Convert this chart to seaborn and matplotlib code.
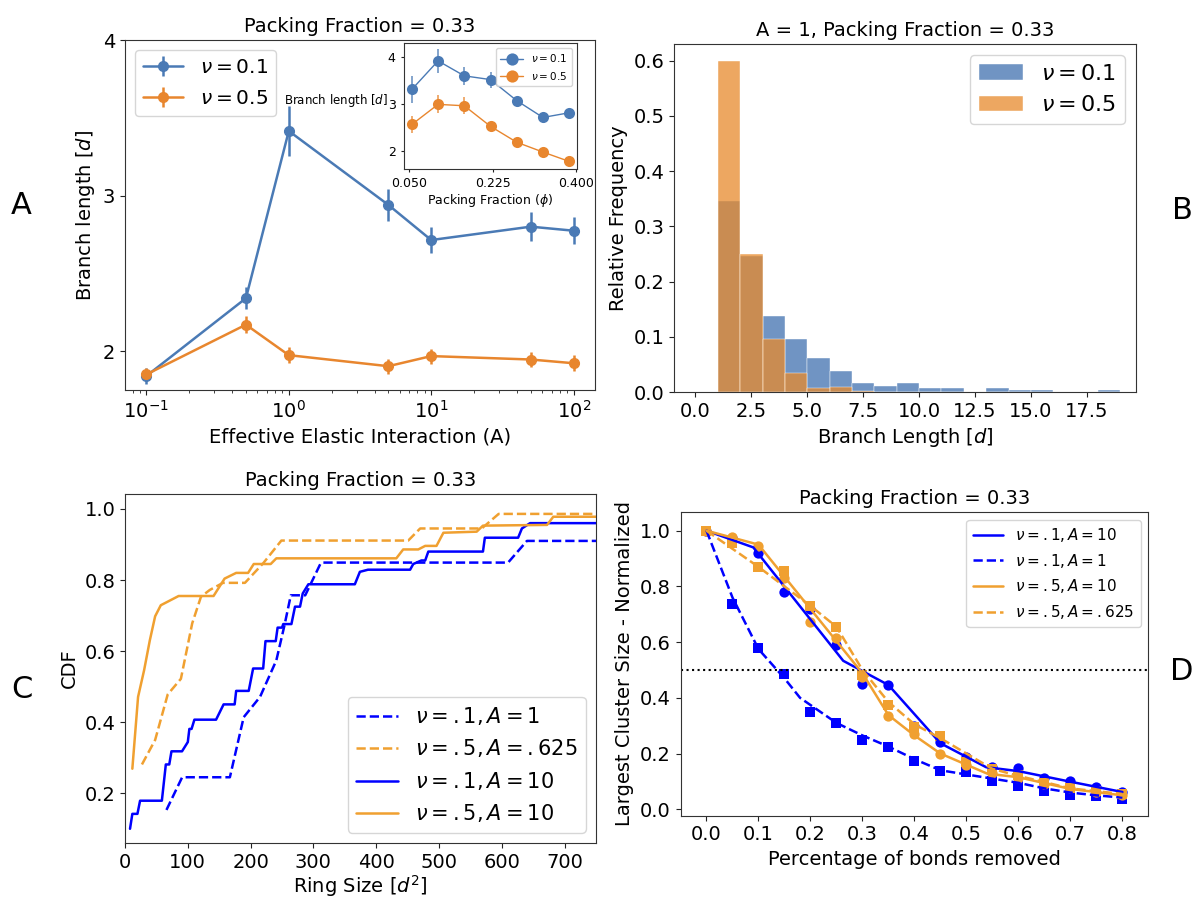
import numpy as np
import pandas as pd
import matplotlib
matplotlib.use("Agg")
import matplotlib.pyplot as plt
import seaborn as sns

sns.set_style("ticks")
plt.rcParams['font.family'] = ['DejaVu Sans']
plt.rcParams['mathtext.fontset'] = 'dejavusans'
plt.rcParams['xtick.direction'] = 'out'
plt.rcParams['ytick.direction'] = 'out'
plt.rcParams['text.color'] = 'black'
plt.rcParams['axes.labelcolor'] = 'black'
plt.rcParams['xtick.color'] = '#222222'
plt.rcParams['ytick.color'] = '#222222'
plt.rcParams['xtick.labelcolor'] = 'black'
plt.rcParams['ytick.labelcolor'] = 'black'
plt.rcParams['axes.edgecolor'] = '#333333'

# ---------------- data ----------------
# Panel A
A_vals = [0.1, 0.5, 1, 5, 10, 50, 100]
a_nu01 = [1.84, 2.34, 3.415, 2.94, 2.714, 2.80, 2.774]
a_nu01_err = [0.05, 0.07, 0.16, 0.105, 0.086, 0.094, 0.087]
a_nu05 = [1.85, 2.17, 1.974, 1.903, 1.968, 1.946, 1.922]
a_nu05_err = [0.04, 0.054, 0.05, 0.048, 0.048, 0.05, 0.05]

inset_phi = [0.055, 0.11, 0.165, 0.22, 0.275, 0.33, 0.385]
inset_nu01 = [3.31, 3.92, 3.60, 3.52, 3.07, 2.71, 2.81]
inset_nu01_err = [0.29, 0.26, 0.19, 0.17, 0.06, 0.05, 0.05]
inset_nu05 = [2.56, 2.99, 2.96, 2.52, 2.18, 1.97, 1.77]
inset_nu05_err = [0.18, 0.19, 0.18, 0.06, 0.05, 0.05, 0.04]

# Panel B (relative frequency per unit bin, edges 0..19)
bin_edges = list(range(0, 20))
hist_nu01 = [0, 0.345, 0.247, 0.138, 0.096, 0.0615, 0.0386, 0.0157, 0.0115,
             0.0157, 0.0078, 0.0078, 0, 0.0078, 0.004, 0.004, 0, 0, 0.004]
hist_nu05 = [0, 0.600, 0.250, 0.096, 0.034, 0.007, 0.009, 0.002, 0,
             0, 0, 0, 0, 0, 0, 0, 0, 0, 0]

# Panel C (CDF curves)
c_nu01_A1_x = [66, 91, 167, 189, 215, 241, 254, 264, 287, 311, 313, 610, 640, 750]
c_nu01_A1_y = [0.153, 0.245, 0.245, 0.414, 0.471, 0.574, 0.673, 0.757, 0.757, 0.845, 0.849, 0.849, 0.91, 0.91]
c_nu05_A0625_x = [27, 48, 68, 89, 107, 121, 135, 156, 191, 220, 249, 451, 470, 568, 595, 750]
c_nu05_A0625_y = [0.281, 0.35, 0.478, 0.522, 0.678, 0.753, 0.772, 0.792, 0.792, 0.847, 0.911, 0.911, 0.945, 0.945, 0.986, 0.986]
c_nu01_A10_x = [8, 11.7, 19.8, 24, 58.7, 65, 70.5, 74, 90.8, 100, 102.5, 106, 110.5, 145, 157, 174.6,
                177, 197, 204, 220, 223.7, 240, 243, 250, 252, 265, 270.7, 278.7, 283, 292, 366,
                374, 387, 454, 459, 472, 478, 483, 570, 573, 626, 632, 645, 750]
c_nu01_A10_y = [0.10, 0.142, 0.142, 0.179, 0.179, 0.281, 0.281, 0.318, 0.318, 0.344, 0.381, 0.381, 0.407,
                0.407, 0.45, 0.45, 0.488, 0.488, 0.551, 0.551, 0.628, 0.628, 0.666, 0.666, 0.676, 0.676,
                0.725, 0.725, 0.762, 0.788, 0.788, 0.823, 0.829, 0.829, 0.845, 0.855, 0.855, 0.88, 0.88,
                0.919, 0.919, 0.945, 0.96, 0.96]
c_nu05_A10_x = [11.7, 20.8, 30.4, 39.5, 48, 57, 85.4, 141, 158.6, 177, 196, 205, 232, 241, 432, 443,
                467, 478, 496, 507, 560, 570, 672, 682, 750]
c_nu05_A10_y = [0.269, 0.471, 0.546, 0.63, 0.698, 0.729, 0.755, 0.755, 0.804, 0.82, 0.82, 0.845, 0.845,
                0.861, 0.861, 0.886, 0.886, 0.896, 0.896, 0.933, 0.936, 0.953, 0.955, 0.978, 0.978]

# Panel D
frac_removed = [0.0, 0.05, 0.1, 0.15, 0.2, 0.25, 0.3, 0.35, 0.4, 0.45, 0.5, 0.55, 0.6, 0.65, 0.7, 0.75, 0.8]
d_nu01_A10_pts = [1.0, 0.975, 0.919, 0.781, 0.72, 0.59, 0.45, 0.446, 0.30, 0.24, 0.189, 0.151, 0.15, 0.111, 0.103, 0.081, 0.063]
d_nu01_A1_pts = [1.0, 0.737, 0.578, 0.484, 0.35, 0.309, 0.247, 0.222, 0.175, 0.137, 0.135, 0.10, 0.084, 0.066, 0.053, 0.048, 0.037]
d_nu05_A10_pts = [1.0, 0.978, 0.945, 0.83, 0.671, 0.614, 0.476, 0.336, 0.27, 0.20, 0.159, 0.129, 0.113, 0.091, 0.075, 0.061, 0.051]
d_nu05_A0625_pts = [1.0, 0.955, 0.869, 0.855, 0.731, 0.653, 0.482, 0.374, 0.294, 0.263, 0.17, 0.144, 0.123, 0.096, 0.077, 0.065, 0.055]

d_fit_nu01_A10_x = [0.0, 0.09, 0.263, 0.35, 0.45, 0.538, 0.6, 0.7, 0.8]
d_fit_nu01_A10_y = [1.0, 0.94, 0.533, 0.446, 0.237, 0.151, 0.137, 0.099, 0.062]
d_fit_nu01_A1_x = [0.0, 0.05, 0.1, 0.15, 0.18, 0.25, 0.3, 0.35, 0.4, 0.45, 0.5, 0.55, 0.6, 0.65, 0.7, 0.75, 0.8]
d_fit_nu01_A1_y = [1.0, 0.76, 0.575, 0.47, 0.40, 0.31, 0.265, 0.225, 0.18, 0.14, 0.125, 0.11, 0.095, 0.075, 0.06, 0.05, 0.042]
d_fit_nu05_A10_x = [0.0, 0.1, 0.3, 0.35, 0.4, 0.45, 0.54, 0.6, 0.7, 0.8]
d_fit_nu05_A10_y = [1.0, 0.95, 0.488, 0.338, 0.265, 0.20, 0.128, 0.115, 0.073, 0.05]
d_fit_nu05_A0625_x = [0.0, 0.1, 0.2, 0.25, 0.3, 0.35, 0.4, 0.45, 0.55, 0.6, 0.7, 0.8]
d_fit_nu05_A0625_y = [1.0, 0.87, 0.73, 0.655, 0.5, 0.385, 0.305, 0.255, 0.145, 0.12, 0.075, 0.055]

# ---------------- styles ----------------
blueA = '#4a7ab5'
orangeA = '#e8862e'
blueB = '#4c7ab4'
orangeB = '#e88a2c'
blueCD = '#0000ff'
orangeCD = '#f0a030'

W, H = 1195, 898
fig = plt.figure(figsize=(W / 100, H / 100), dpi=100)

def rect(l, r, t, b):
    return [l / W, 1 - b / H, (r - l) / W, (b - t) / H]

TICK = 14
LAB = 14

# ---------------- Panel A ----------------
axA = fig.add_axes(rect(125, 595, 40, 390))
axA.errorbar(A_vals, a_nu01, yerr=a_nu01_err, color=blueA, marker='o', ms=7, lw=1.8,
             elinewidth=1.8, label=r'$\nu = 0.1$')
axA.errorbar(A_vals, a_nu05, yerr=a_nu05_err, color=orangeA, marker='o', ms=7, lw=1.8,
             elinewidth=1.8, label=r'$\nu = 0.5$')
axA.set_xscale('log')
axA.set_ylim(1.75, 4.0)
axA.set_yticks([2, 3, 4])
axA.tick_params(labelsize=TICK)
axA.set_xlabel('Effective Elastic Interaction (A)', fontsize=LAB)
axA.set_ylabel(r'Branch length [$d$]', fontsize=LAB)
axA.set_title('Packing Fraction = 0.33', fontsize=LAB)
axA.legend(loc='upper left', fontsize=14.5, labelspacing=0.6, handlelength=2.0)

# inset
axI = fig.add_axes(rect(404, 577, 43, 169))
axI.errorbar(inset_phi, inset_nu01, yerr=inset_nu01_err, color=blueA, fmt='none', elinewidth=1.2, alpha=0.8)
axI.errorbar(inset_phi, inset_nu05, yerr=inset_nu05_err, color=orangeA, fmt='none', elinewidth=1.2, alpha=0.8)
sns.lineplot(x=inset_phi, y=inset_nu01, ax=axI, color=blueA, marker='o', markersize=8,
             markeredgewidth=0, lw=1, label=r'$\nu = 0.1$')
sns.lineplot(x=inset_phi, y=inset_nu05, ax=axI, color=orangeA, marker='o', markersize=8,
             markeredgewidth=0, lw=1, label=r'$\nu = 0.5$')
axI.set_xticks([0.05, 0.225, 0.4])
axI.set_xticklabels(['0.050', '0.225', '0.400'])
axI.set_yticks([2, 3, 4])
axI.tick_params(labelsize=9, length=2.5)
axI.set_xlabel(r'Packing Fraction ($\phi$)', fontsize=9, labelpad=1)
axI.set_ylabel(r'Branch length [$d$]', fontsize=8.5, rotation=0, ha='right', va='center')
axI.yaxis.set_label_coords(-0.095, 0.54)
axI.legend(loc='upper right', fontsize=7.5, markerscale=1.1, handlelength=2.2)

# ---------------- Panel B ----------------
axB = fig.add_axes(rect(674, 1136, 44, 392))
centers = [e + 0.5 for e in bin_edges[:-1]]
sns.histplot(x=centers, weights=hist_nu01, bins=bin_edges, ax=axB, color=blueB, alpha=0.8,
             edgecolor='white', linewidth=0.3, label=r'$\nu = 0.1$')
sns.histplot(x=centers, weights=hist_nu05, bins=bin_edges, ax=axB, color=orangeB, alpha=0.75,
             edgecolor='white', linewidth=0.3, label=r'$\nu = 0.5$')
axB.set_xlim(-0.96, 19.7)
axB.set_ylim(0, 0.63)
axB.set_xticks([0, 2.5, 5, 7.5, 10, 12.5, 15, 17.5])
axB.tick_params(labelsize=TICK)
axB.set_xlabel(r'Branch Length [$d$]', fontsize=LAB)
axB.set_ylabel('Relative Frequency', fontsize=LAB)
axB.set_title('A = 1, Packing Fraction = 0.33', fontsize=LAB)
axB.legend(loc='upper right', fontsize=16)

# ---------------- Panel C ----------------
axC = fig.add_axes(rect(125, 596, 494, 843))
sns.lineplot(x=c_nu01_A1_x, y=c_nu01_A1_y, ax=axC, color=blueCD, lw=1.8, linestyle='--',
             sort=False, estimator=None, label=r'$\nu = .1, A = 1$')
sns.lineplot(x=c_nu05_A0625_x, y=c_nu05_A0625_y, ax=axC, color=orangeCD, lw=1.8, linestyle='--',
             sort=False, estimator=None, label=r'$\nu = .5, A = .625$')
sns.lineplot(x=c_nu01_A10_x, y=c_nu01_A10_y, ax=axC, color=blueCD, lw=1.8,
             sort=False, estimator=None, label=r'$\nu = .1, A = 10$')
sns.lineplot(x=c_nu05_A10_x, y=c_nu05_A10_y, ax=axC, color=orangeCD, lw=1.8,
             sort=False, estimator=None, label=r'$\nu = .5, A = 10$')
axC.set_xlim(0, 750)
axC.set_ylim(0.06, 1.042)
axC.set_xticks(range(0, 800, 100))
axC.set_yticks([0.2, 0.4, 0.6, 0.8, 1.0])
axC.tick_params(labelsize=TICK)
axC.set_xlabel(r'Ring Size [$d^2$]', fontsize=LAB, labelpad=1)
axC.set_ylabel('CDF', fontsize=LAB)
axC.set_title('Packing Fraction = 0.33', fontsize=LAB)
axC.legend(loc='lower right', fontsize=15)

# ---------------- Panel D ----------------
axD = fig.add_axes(rect(680.5, 1148.4, 512.3, 815.7))
axD.axhline(0.5, color='black', linestyle=':', lw=1.5)
sns.lineplot(x=d_fit_nu01_A10_x, y=d_fit_nu01_A10_y, ax=axD, color=blueCD, lw=1.8,
             sort=False, estimator=None, label=r'$\nu = .1, A = 10$')
sns.lineplot(x=d_fit_nu01_A1_x, y=d_fit_nu01_A1_y, ax=axD, color=blueCD, lw=1.8, linestyle='--',
             sort=False, estimator=None, label=r'$\nu = .1, A = 1$')
sns.lineplot(x=d_fit_nu05_A10_x, y=d_fit_nu05_A10_y, ax=axD, color=orangeCD, lw=1.8,
             sort=False, estimator=None, label=r'$\nu = .5, A = 10$')
sns.lineplot(x=d_fit_nu05_A0625_x, y=d_fit_nu05_A0625_y, ax=axD, color=orangeCD, lw=1.8, linestyle='--',
             sort=False, estimator=None, label=r'$\nu = .5, A = .625$')
sns.scatterplot(x=frac_removed, y=d_nu01_A10_pts, ax=axD, color=blueCD, marker='o', s=55, linewidth=0)
sns.scatterplot(x=frac_removed, y=d_nu01_A1_pts, ax=axD, color=blueCD, marker='s', s=55, linewidth=0)
sns.scatterplot(x=frac_removed, y=d_nu05_A10_pts, ax=axD, color=orangeCD, marker='o', s=55, linewidth=0)
sns.scatterplot(x=frac_removed, y=d_nu05_A0625_pts, ax=axD, color=orangeCD, marker='s', s=55, linewidth=0)
axD.set_xlim(-0.05, 0.85)
axD.set_ylim(-0.023, 1.066)
axD.set_xticks(np.round(np.arange(0, 0.81, 0.1), 1))
axD.set_yticks([0.0, 0.2, 0.4, 0.6, 0.8, 1.0])
axD.tick_params(labelsize=TICK)
axD.set_xlabel('Percentage of bonds removed', fontsize=LAB)
axD.set_ylabel('Largest Cluster Size - Normalized', fontsize=LAB)
axD.set_title('Packing Fraction = 0.33', fontsize=LAB)
axD.legend(loc='upper right', fontsize=11)

# panel letters
for letter, (x, y) in {'A': (21, 206), 'B': (1182, 210), 'C': (22, 690), 'D': (1182, 672)}.items():
    fig.text(x / W, 1 - y / H, letter, fontsize=22, ha='center', va='center')

fig.savefig('out.png', dpi=100)
